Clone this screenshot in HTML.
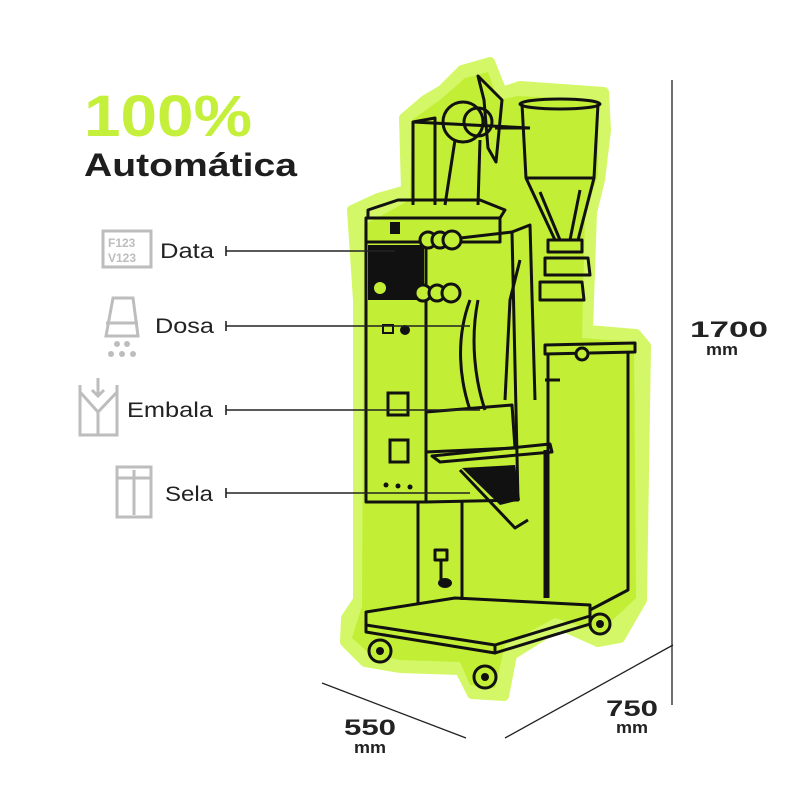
<!DOCTYPE html>
<html><head><meta charset="utf-8"><style>
html,body{margin:0;padding:0;background:#fff;width:800px;height:800px;overflow:hidden}
svg{display:block}
text{font-family:"Liberation Sans",sans-serif}
</style></head><body>
<svg width="800" height="800" viewBox="0 0 800 800" xmlns="http://www.w3.org/2000/svg">
<rect width="800" height="800" fill="#fff"/>
<!-- titles -->
<text x="84" y="136" font-size="58" font-weight="bold" fill="#c4ef3a" textLength="168" lengthAdjust="spacingAndGlyphs">100%</text>
<text x="84" y="176" font-size="32" font-weight="bold" fill="#1e1e1e" textLength="213" lengthAdjust="spacingAndGlyphs">Automática</text>

<!-- icons -->
<g fill="none" stroke="#bdbdbd" stroke-width="3">
 <rect x="103" y="231" width="48" height="36"/>
 <path d="M113 298 L133 298 L138 336 L106 336 Z"/>
 <line x1="106" y1="323" x2="138" y2="323"/>
 <path d="M80 385 L80 435 L117 435 L117 385 M80 392 L98 412 L117 392 M98 412 L98 435 M98 378 L98 396 M92 390 L98 396 L104 390"/>
 <rect x="117" y="467" width="34" height="50"/>
 <line x1="134" y1="470" x2="134" y2="515"/>
 <line x1="117" y1="478" x2="151" y2="478"/>
</g>
<g fill="#bdbdbd">
 <text x="108" y="247" font-size="12" font-weight="bold">F123</text>
 <text x="108" y="262" font-size="12" font-weight="bold">V123</text>
 <circle cx="117" cy="344" r="3"/><circle cx="127" cy="344" r="3"/>
 <circle cx="111" cy="354" r="3"/><circle cx="122" cy="354" r="3"/><circle cx="133" cy="354" r="3"/>
</g>
<!-- labels -->
<g font-size="21" fill="#222" lengthAdjust="spacingAndGlyphs">
 <text x="160" y="258" textLength="54" lengthAdjust="spacingAndGlyphs">Data</text>
 <text x="155" y="333" textLength="59" lengthAdjust="spacingAndGlyphs">Dosa</text>
 <text x="127" y="417" textLength="86" lengthAdjust="spacingAndGlyphs">Embala</text>
 <text x="165" y="501" textLength="48" lengthAdjust="spacingAndGlyphs">Sela</text>
</g>

<!-- halo -->
<path d="M462 70 L490 62 L502 92 L520 86 L604 92 L606 130 L600 180 L592 212 L588 330 L636 334 L646 346 L642 600 L620 638 L598 642 L560 625 L512 655 L504 696 L472 694 L460 670 L400 668 L365 662 L345 642 L346 618 L358 600 L358 300 L352 210 L378 198 L406 190 L404 118 L425 100 L442 90 Z" fill="#d3f767" stroke="#d3f767" stroke-width="10" stroke-linejoin="round"/>
<path d="M465 78 L488 72 L498 100 L518 96 L598 100 L598 175 L585 215 L582 338 L634 342 L636 598 L600 632 L555 618 L505 645 L495 688 L470 685 L460 662 L400 660 L370 654 L352 638 L362 606 L364 225 L410 200 L412 120 L440 100 Z" fill="#c2ee35"/>

<!-- machine lines -->
<g fill="none" stroke="#111" stroke-width="3" stroke-linejoin="round">
 <path d="M413 205 L413 122 L435 118 L435 205"/>
 <line x1="413" y1="122" x2="530" y2="128"/>
 <circle cx="463" cy="122" r="20"/>
 <circle cx="478" cy="122" r="14"/>
 <path d="M478 76 L502 100 L496 162 L488 148 L484 100 Z"/>
 <line x1="495" y1="128" x2="530" y2="128"/>
 <path d="M455 140 L445 205 M480 140 L478 205"/>
 <ellipse cx="560" cy="104" rx="40" ry="5"/>
 <path d="M522 104 L526 178 L555 240 L578 240 L594 178 L598 104"/>
 <path d="M526 178 L594 178"/>
 <path d="M540 192 L560 240 M580 190 L570 240"/>
 <rect x="548" y="240" width="34" height="12"/>
 <path d="M545 258 L588 258 L590 275 L545 275 Z"/>
 <path d="M540 282 L582 282 L584 300 L540 300 Z"/>
 <path d="M368 210 L398 200 L480 200 L505 210 L500 218 L368 218 Z"/>
 <rect x="366" y="218" width="134" height="24"/>
 <rect x="366" y="242" width="60" height="260"/>
 <path d="M426 242 L512 232 L518 500 L426 502"/>
 <path d="M512 232 L530 225 L535 400"/>
 <path d="M426 412 L512 405 L515 448 L426 452 Z"/>
 <path d="M432 456 L550 444 L552 452 L440 462 Z"/>
 <path d="M460 470 L515 528 L528 520"/>
 <path d="M470 300 C455 340 460 380 470 410 M478 300 C470 340 475 380 485 410"/>
 <path d="M520 260 L510 300 L505 400"/>
 <path d="M418 502 L418 605 M545 450 L545 598 M462 500 L462 600"/>
 <rect x="435" y="550" width="12" height="10"/>
 <line x1="441" y1="560" x2="441" y2="580"/>
 <path d="M545 345 L635 343 L635 352 L545 354 Z"/>
 <path d="M548 354 L548 598 M628 352 L628 590 L590 610"/>
 <line x1="560" y1="380" x2="545" y2="380"/>
 <path d="M366 612 L455 598 L590 605 L590 616 L495 645 L366 625 Z"/>
 <path d="M366 625 L366 632 L495 653 L495 645"/>
 <path d="M495 653 L590 624 L590 616"/>
</g>
<g fill="#111">
 <rect x="368" y="245" width="56" height="55"/>
 <circle cx="380" cy="288" r="6" fill="#c2ee35"/>
 <rect x="390" y="222" width="10" height="12"/>
 <circle cx="405" cy="330" r="5"/>
 <rect x="383" y="325" width="10" height="8" fill="none" stroke="#111" stroke-width="2"/>
 <rect x="388" y="393" width="20" height="22" fill="none" stroke="#111" stroke-width="3"/>
 <rect x="390" y="440" width="18" height="22" fill="none" stroke="#111" stroke-width="3"/>
 <circle cx="386" cy="485" r="2.5"/><circle cx="398" cy="486" r="2.5"/><circle cx="410" cy="487" r="2.5"/>
 <path d="M462 468 L515 465 L520 500 L500 505 Z"/>
 <ellipse cx="445" cy="583" rx="7" ry="5"/>
</g>
<g fill="#c2ee35" stroke="#111" stroke-width="3">
 <circle cx="428" cy="240" r="8"/><circle cx="440" cy="240" r="8"/><circle cx="452" cy="240" r="9"/>
 <circle cx="423" cy="293" r="8"/><circle cx="437" cy="293" r="8"/><circle cx="451" cy="293" r="9"/>
 <circle cx="582" cy="354" r="6"/>
 <circle cx="380" cy="651" r="11"/><circle cx="485" cy="677" r="11"/><circle cx="600" cy="624" r="10"/>
</g>
<g fill="#111"><circle cx="380" cy="651" r="4"/><circle cx="485" cy="677" r="4"/><circle cx="600" cy="624" r="4"/></g>

<!-- connectors -->
<g stroke="#222" stroke-width="1.6">
 <line x1="226" y1="251" x2="395" y2="251"/><line x1="226" y1="246" x2="226" y2="256"/>
 <line x1="226" y1="326" x2="470" y2="326"/><line x1="226" y1="321" x2="226" y2="331"/>
 <line x1="226" y1="410" x2="480" y2="410"/><line x1="226" y1="405" x2="226" y2="415"/>
 <line x1="226" y1="493" x2="470" y2="493"/><line x1="226" y1="488" x2="226" y2="498"/>
</g>

<!-- dimensions -->
<g stroke="#222" stroke-width="1.3">
 <line x1="672" y1="80" x2="672" y2="705"/>
 <line x1="322" y1="683" x2="466" y2="738"/>
 <line x1="505" y1="738" x2="673" y2="645"/>
</g>
<g font-weight="bold" fill="#222">
 <text x="690" y="337" font-size="22" textLength="78" lengthAdjust="spacingAndGlyphs">1700</text>
 <text x="706" y="355" font-size="17" textLength="32" lengthAdjust="spacingAndGlyphs">mm</text>
 <text x="344" y="735" font-size="22" textLength="52" lengthAdjust="spacingAndGlyphs">550</text>
 <text x="354" y="753" font-size="17" textLength="32" lengthAdjust="spacingAndGlyphs">mm</text>
 <text x="606" y="716" font-size="22" textLength="52" lengthAdjust="spacingAndGlyphs">750</text>
 <text x="616" y="733" font-size="17" textLength="32" lengthAdjust="spacingAndGlyphs">mm</text>
</g>
</svg>
</body></html>
